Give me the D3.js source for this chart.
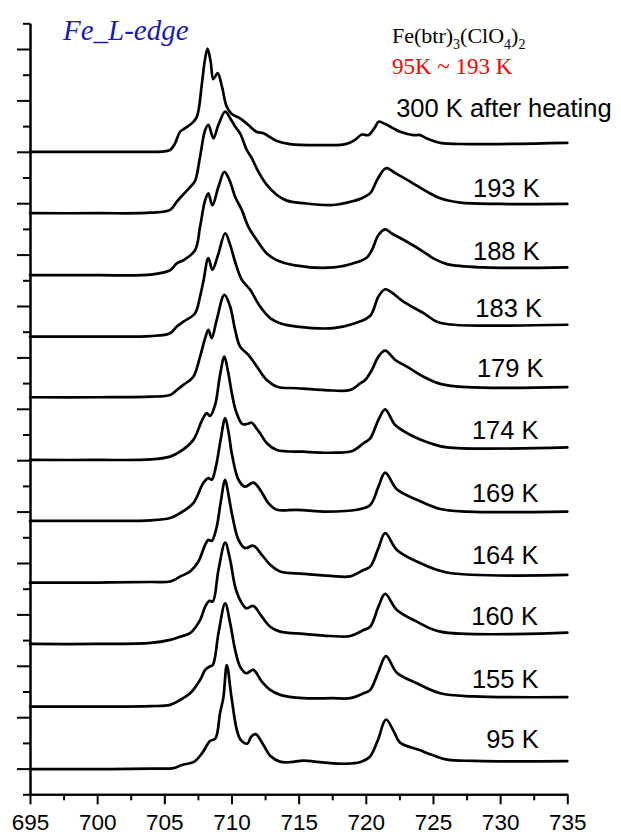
<!DOCTYPE html>
<html>
<head>
<meta charset="utf-8">
<script src="https://cdn.jsdelivr.net/npm/d3@7"></script>
<style>
  html, body { margin: 0; padding: 0; background: #fff; }
  svg { display: block; }
</style>
</head>
<body>
<svg id="chart" width="621" height="836"></svg>
<script>
// ---------- DATA ----------
const labels = ["300 K after heating","193 K","188 K","183 K","179 K","174 K","169 K","164 K","160 K","155 K","95 K"];
const offsets = [25.0, 22.61, 20.20, 17.81, 15.45, 13.01, 10.64, 8.24, 5.85, 3.41, 0.98];

const s300 = [[695,0],[700,0],[705,0.02],[705.43,0.07],[705.8,0.33],[706.17,0.78],[706.55,0.92],[707.05,1.11],[707.42,1.36],[707.8,2.66],[708.0,3.50],[708.22,4.02],[708.45,3.50],[708.65,2.83],[708.97,3.06],[709.28,2.56],[709.65,1.75],[710.02,1.47],[710.64,1.30],[711.26,1.04],[711.89,0.77],[712.38,0.72],[713.38,0.42],[714.37,0.30],[716.6,0.26],[718.3,0.28],[718.8,0.35],[719.2,0.46],[719.7,0.67],[720.2,0.65],[720.7,0.97],[720.95,1.17],[721.44,1.08],[722.06,0.91],[722.56,0.78],[723.55,0.65],[724.05,0.65],[724.55,0.52],[725.54,0.35],[727.53,0.30],[735,0.35]];
const s193 = [[695,0],[700,0],[704,0.02],[705.43,0.13],[705.93,0.45],[706.3,0.67],[706.92,1.02],[707.29,1.26],[707.66,2.20],[708.04,3.24],[708.28,3.44],[708.65,2.92],[709.03,3.44],[709.53,3.95],[709.9,3.70],[710.27,3.37],[710.64,3.11],[711.14,2.46],[711.51,2.14],[712.0,1.62],[712.63,1.10],[713.38,0.71],[714.12,0.49],[715.36,0.39],[717.59,0.32],[719.2,0.49],[719.7,0.58],[720.33,0.78],[720.9,1.35],[721.5,1.75],[722.2,1.56],[723.3,1.23],[724.55,0.84],[725.54,0.58],[727.03,0.41],[730,0.36],[735,0.36]];
const s188 = [[695,0],[700,0],[704,0.02],[705.43,0.19],[705.93,0.46],[706.42,0.58],[707.29,0.97],[707.66,1.88],[708.04,2.92],[708.28,3.18],[708.58,2.72],[709.03,3.44],[709.47,4.02],[709.85,3.70],[710.27,3.05],[710.77,2.53],[711.26,1.88],[711.89,1.36],[712.63,0.84],[713.38,0.58],[714.61,0.39],[717.59,0.30],[719.2,0.48],[720.08,0.69],[720.45,0.97],[720.94,1.56],[721.44,1.78],[721.94,1.62],[723.06,1.30],[724.3,0.91],[725.04,0.65],[726.04,0.43],[728.77,0.30],[735,0.30]];
const s183 = [[695,0],[700,0],[704,0.02],[705.43,0.13],[705.93,0.39],[706.42,0.58],[707.29,0.91],[707.66,1.56],[707.9,2.13],[708.28,3.05],[708.58,2.60],[709.0,3.18],[709.53,4.02],[709.9,3.57],[710.27,2.91],[710.77,2.21],[711.39,1.82],[712.13,1.17],[712.88,0.72],[713.62,0.52],[714.87,0.39],[717.59,0.33],[719.2,0.52],[720.33,0.81],[720.94,1.56],[721.44,1.84],[721.94,1.71],[722.8,1.36],[724.3,0.91],[725.29,0.58],[726.53,0.46],[735,0.46]];
const s179 = [[695,0],[700,0],[704,0.02],[705.43,0.09],[705.93,0.28],[706.42,0.48],[707.16,0.80],[707.66,1.58],[708.04,2.30],[708.28,2.62],[708.53,2.30],[708.9,3.01],[709.47,3.98],[709.9,3.53],[710.27,2.62],[710.64,1.97],[711.26,1.65],[711.89,1.19],[712.63,0.67],[713.38,0.41],[714.87,0.35],[716.97,0.28],[718.84,0.28],[719.58,0.54],[719.95,0.67],[720.45,1.06],[720.94,1.58],[721.44,1.81],[722.19,1.45],[723.06,1.19],[724.3,0.80],[725.54,0.52],[727.53,0.39],[735,0.39]];
const s174 = [[695,0],[700,0],[704,0.02],[705.43,0.13],[706.17,0.32],[707.16,0.78],[707.79,1.52],[708.16,1.82],[708.41,1.71],[708.78,2.14],[709.15,3.31],[709.47,4.02],[709.75,3.42],[710.05,2.53],[710.35,1.87],[710.8,1.40],[711.16,1.40],[711.51,1.45],[711.83,1.25],[712.13,1.04],[712.63,0.65],[713.38,0.39],[715.36,0.32],[717.34,0.28],[719.0,0.35],[719.83,0.65],[720.33,0.84],[720.94,1.56],[721.44,1.97],[722.19,1.36],[723.55,0.91],[724.8,0.65],[726.04,0.49],[735,0.49]];
const s169 = [[695,0],[700,0],[704,0.02],[705.43,0.11],[706.17,0.30],[707.16,0.69],[707.9,1.47],[708.28,1.66],[708.53,1.60],[708.85,2.14],[709.19,3.15],[709.53,4.00],[709.79,3.42],[710.02,2.63],[710.52,1.60],[711.01,1.33],[711.63,1.49],[712.13,1.21],[712.75,0.69],[713.38,0.43],[714.87,0.43],[717.1,0.36],[719.33,0.43],[720.33,0.62],[720.94,1.33],[721.44,1.88],[722.31,1.23],[723.8,0.82],[725.54,0.46],[727.53,0.36],[735,0.36]];
const s164 = [[695,0],[700,0],[704,0.02],[705.43,0.04],[706.17,0.23],[706.92,0.43],[707.54,0.82],[708.04,1.47],[708.28,1.66],[708.53,1.62],[708.9,2.17],[709.19,3.10],[709.53,4.00],[709.79,3.37],[710.05,2.63],[710.52,1.66],[711.01,1.34],[711.63,1.43],[712.26,1.08],[712.88,0.69],[713.62,0.43],[715.36,0.34],[717.35,0.26],[718.84,0.24],[719.83,0.49],[720.33,0.62],[720.94,1.34],[721.44,1.92],[722.31,1.27],[723.8,0.82],[726.04,0.39],[735,0.30]];
const s160 = [[695,0],[700,0],[704,0.04],[705.43,0.16],[706.17,0.28],[706.92,0.42],[707.66,0.93],[708.04,1.45],[708.36,1.68],[708.61,1.65],[709.03,2.88],[709.53,3.94],[709.9,3.27],[710.27,2.23],[710.64,1.71],[711.09,1.39],[711.63,1.48],[712.26,1.06],[712.88,0.67],[713.62,0.48],[715.36,0.39],[717.35,0.31],[718.84,0.31],[719.83,0.54],[720.33,0.67],[720.94,1.45],[721.44,1.95],[722.31,1.32],[723.8,0.87],[725.54,0.48],[735,0.44]];
const s155 = [[695,0],[700,0],[704,0.02],[705.43,0.07],[706.17,0.26],[706.92,0.52],[707.66,1.04],[708.04,1.43],[708.36,1.56],[708.61,1.62],[709.03,2.86],[709.53,4.02],[709.9,3.25],[710.27,2.21],[710.64,1.56],[711.09,1.30],[711.63,1.43],[712.26,0.97],[712.88,0.65],[713.62,0.46],[715.36,0.33],[717.5,0.33],[718.84,0.33],[719.83,0.52],[720.33,0.65],[720.94,1.36],[721.5,1.97],[722.31,1.32],[723.8,0.91],[725.54,0.52],[728,0.40],[735,0.37]];
const s95 = [[695,0],[700,0],[704,0.02],[705.7,0.04],[706.3,0.16],[707.2,0.28],[707.8,0.61],[708.4,1.09],[708.8,1.19],[709.15,2.18],[709.4,2.80],[709.65,4.05],[710.0,2.80],[710.4,1.52],[710.7,1.13],[711.2,1.00],[711.45,1.25],[711.8,1.36],[712.3,1.01],[712.9,0.51],[713.6,0.29],[714.4,0.27],[715.35,0.33],[716.8,0.26],[718.6,0.21],[719.6,0.28],[720.3,0.48],[720.9,1.13],[721.5,1.93],[722.1,1.45],[722.55,1.03],[724.0,0.74],[725.0,0.54],[726.05,0.37],[728.1,0.32],[731.5,0.30],[735,0.31]];
const series = [s300, s193, s188, s183, s179, s174, s169, s164, s160, s155, s95];

const xMajorTicks = [695,700,705,710,715,720,725,730,735];
const xMinorTicks = [697.5,702.5,707.5,712.5,717.5,722.5,727.5,732.5];
const yMajorTicks = d3.range(1, 30, 2);
const yMinorTicks = d3.range(0, 31, 2);

// label anchors (energy, axis units)
const labelE = [722.26, 727.98, 727.98, 728.15, 728.27, 727.9, 727.9, 727.9, 727.85, 727.9, 728.97];
const labelY = [26.34, 23.25, 20.79, 18.56, 16.25, 13.81, 11.39, 8.95, 6.59, 4.12, 1.82];

// ---------- DRAW ----------
const svg = d3.select("#chart");
const x = d3.scaleLinear().domain([695, 735]).range([30, 567.3]);
const y = d3.scaleLinear().domain([0, 30]).range([794.3, 23.3]);

const sans = "'Liberation Sans', Arial, sans-serif";
const serif = "'Liberation Serif', 'Times New Roman', serif";

function styleAxis(g) {
  g.select(".domain").attr("stroke", "#000").attr("stroke-width", 2);
  g.selectAll(".tick line").attr("stroke", "#000").attr("stroke-width", 2);
  g.selectAll(".tick text").attr("fill", "#000").style("font-family", sans).style("font-size", "22.5px");
}

// X axis
svg.append("g").attr("transform", `translate(0,${y(0)})`)
  .call(d3.axisBottom(x).tickValues(xMinorTicks).tickSize(6).tickSizeOuter(0).tickFormat(""))
  .call(styleAxis);
svg.append("g").attr("transform", `translate(0,${y(0)})`)
  .call(d3.axisBottom(x).tickValues(xMajorTicks).tickSize(10).tickSizeOuter(0).tickPadding(10).tickFormat(d3.format("d")))
  .call(styleAxis);

// Y axis
svg.append("g").attr("transform", `translate(${x(695)},0)`)
  .call(d3.axisLeft(y).tickValues(yMinorTicks).tickSize(7).tickSizeOuter(0).tickFormat(""))
  .call(styleAxis);
svg.append("g").attr("transform", `translate(${x(695)},0)`)
  .call(d3.axisLeft(y).tickValues(yMajorTicks).tickSize(13).tickSizeOuter(0).tickFormat(""))
  .call(styleAxis);

// Curves
series.forEach((s, i) => {
  const line = d3.line()
    .x(d => x(d[0]))
    .y(d => y(d[1] + offsets[i]))
    .curve(d3.curveCatmullRom.alpha(0.5));
  svg.append("path")
    .attr("d", line(s))
    .attr("fill", "none")
    .attr("stroke", "#000")
    .attr("stroke-width", 2.7)
    .attr("stroke-linejoin", "round")
    .attr("stroke-linecap", "round");
});

// Curve labels
labels.forEach((t, i) => {
  svg.append("text")
    .attr("x", x(labelE[i]))
    .attr("y", y(labelY[i]))
    .attr("fill", "#000")
    .style("font-family", sans)
    .style("font-size", "25.5px")
    .text(t);
});

// Title
svg.append("text")
  .attr("x", 63).attr("y", 40)
  .attr("fill", "#1c1caa")
  .style("font-family", serif)
  .style("font-style", "italic")
  .style("font-size", "29px")
  .text("Fe_L-edge");

// Compound formula
const f = svg.append("text")
  .attr("x", 392).attr("y", 43)
  .attr("fill", "#000")
  .style("font-family", serif)
  .style("font-size", "22px");
f.append("tspan").text("Fe(btr)");
f.append("tspan").attr("dy", 6).style("font-size", "14px").text("3");
f.append("tspan").attr("dy", -6).text("(ClO");
f.append("tspan").attr("dy", 6).style("font-size", "14px").text("4");
f.append("tspan").attr("dy", -6).text(")");
f.append("tspan").attr("dy", 6).style("font-size", "14px").text("2");

svg.append("text")
  .attr("x", 392).attr("y", 74)
  .attr("fill", "#ff0000")
  .style("font-family", serif)
  .style("font-size", "23px")
  .text("95K ~ 193 K");
</script>
</body>
</html>
